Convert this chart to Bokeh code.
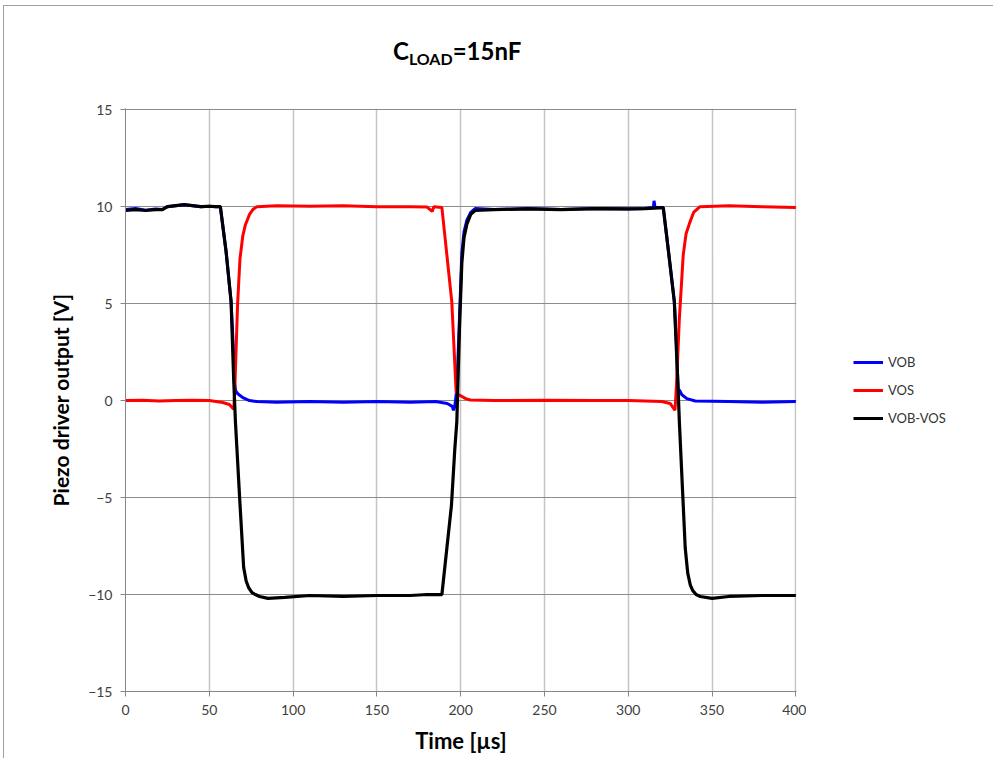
from bokeh.plotting import figure
from bokeh.models import Legend, LegendItem, FixedTicker, Div, Range1d
from bokeh.layouts import column, row
from bokeh.embed import file_html
from bokeh.resources import INLINE

# Scope traces: time in microseconds, voltage in volts
vob_t = [0, 6, 12, 18, 22, 25, 30, 35, 40, 45, 50, 54, 56.6, 60, 63, 64.3, 65, 65.8, 67, 70, 74,
         78.5, 90, 110, 130, 150, 170, 185, 192, 195, 195.7, 196.5, 197.7, 199.3, 200.7, 202,
         203.7, 206, 208.6, 220, 240, 260, 280, 300, 310, 315, 315.4, 316, 320.9, 324, 327.5,
         328.8, 329.8, 330.5, 332, 335, 340, 360, 380, 400]
vob_v = [9.85, 9.9, 9.82, 9.88, 9.85, 10.0, 10.05, 10.1, 10.05, 10.0, 10.02, 10.0, 10.0, 7.7, 5.1,
         2.8, 0.9, 0.5, 0.35, 0.15, 0.0, -0.05, -0.08, -0.05, -0.08, -0.05, -0.08, -0.05, -0.15,
         -0.3, -0.5, -0.3, 0.6, 4.3, 7.6, 8.7, 9.3, 9.7, 9.9, 9.85, 9.9, 9.85, 9.9, 9.88, 9.9,
         9.95, 10.3, 9.95, 9.95, 7.7, 5.1, 2.8, 0.5, 0.55, 0.3, 0.1, -0.02, -0.05, -0.08, -0.05]

vos_t = [0, 10, 20, 30, 40, 50, 58, 62, 64.6, 65.3, 66.9, 68.3, 70, 71.5, 74, 76, 78.5, 90, 110,
         130, 150, 170, 180, 183, 184, 188.8, 194.7, 197.3, 198.5, 200, 203, 205.7, 220, 250, 280,
         300, 320, 325, 327.9, 328.8, 330.5, 332.8, 334.5, 336.8, 339, 342.8, 360, 380, 400]
vos_v = [0.0, 0.02, -0.02, 0.0, 0.02, 0.0, -0.1, -0.2, -0.45, 0.8, 5.0, 7.3, 8.5, 9.05, 9.6, 9.85,
         10.0, 10.05, 10.02, 10.05, 10.0, 10.0, 9.98, 9.75, 10.0, 9.95, 5.1, 0.46, 0.3, 0.25, 0.1,
         0.03, 0.0, 0.02, 0.0, 0.0, -0.05, -0.15, -0.5, 0.8, 4.23, 7.5, 8.6, 9.2, 9.7, 10.0,
         10.05, 10.0, 9.95]

diff_t = [0, 6, 12, 18, 22, 25, 30, 35, 40, 45, 50, 54, 56.6, 60, 63, 64.6, 65.6, 68.1, 70.5, 72,
          73.5, 75.5, 77.5, 80, 85, 95, 110, 130, 150, 170, 180, 188.8, 194.5, 196.5, 197.7,
          199.3, 200.7, 202, 203.7, 206, 208.6, 220, 240, 260, 280, 300, 310, 320.9, 324, 327.5,
          329.8, 330.5, 332.6, 334, 335.5, 337, 338.5, 340.5, 343, 350, 360, 380, 400]
diff_v = [9.8, 9.85, 9.8, 9.85, 9.85, 10.0, 10.05, 10.1, 10.05, 10.0, 10.02, 10.0, 10.0, 7.7, 5.1,
          1.0, -1.1, -5.0, -8.6, -9.3, -9.65, -9.9, -10.0, -10.1, -10.2, -10.15, -10.05, -10.1,
          -10.05, -10.05, -10.0, -10.0, -5.4, -2.5, -1.1, 3.7, 7.1, 8.4, 9.1, 9.6, 9.8, 9.85,
          9.88, 9.85, 9.9, 9.88, 9.9, 9.95, 7.7, 5.1, 0.5, -1.1, -5.0, -7.6, -8.9, -9.5, -9.8,
          -10.0, -10.1, -10.2, -10.1, -10.05, -10.05]

series_names = ["VOB", "VOS", "VOB-VOS"]
series_colors = ["#0000ff", "#ff0000", "black"]

x_ticks = [0, 50, 100, 150, 200, 250, 300, 350, 400]
y_ticks = [-15, -10, -5, 0, 5, 10, 15]

FONT = "Lato"
AXIS_GRAY = "#868686"
TITLE_H = 80
PLOT_W = 802
PLOT_H = 752 - TITLE_H

p = figure(width=PLOT_W, height=PLOT_H,
           x_range=Range1d(0, 400.4), y_range=Range1d(-15, 15.06),
           output_backend="svg", toolbar_location=None, margin=0,
           min_border_left=121, min_border_right=PLOT_W - 121 - 671,
           min_border_top=102 - TITLE_H, min_border_bottom=67)
p.outline_line_color = None
p.background_fill_color = "white"
p.border_fill_color = "white"

p.xaxis.ticker = FixedTicker(ticks=x_ticks)
p.yaxis.ticker = FixedTicker(ticks=y_ticks)
for ax in (p.xaxis, p.yaxis):
    ax.axis_line_color = AXIS_GRAY
    ax.major_tick_line_color = AXIS_GRAY
    ax.major_tick_out = 5
    ax.major_tick_in = 0
    ax.minor_tick_line_color = None
    ax.major_label_text_font = FONT
    ax.major_label_text_font_size = "14px"
    ax.major_label_text_color = "#404040"
    ax.axis_label_text_font = FONT
    ax.axis_label_text_font_style = "bold"
    ax.axis_label_text_color = "black"
p.xaxis.axis_label_text_font_size = "22px"
p.yaxis.axis_label_text_font_size = "21px"
p.xaxis.major_label_standoff = 8
p.yaxis.major_label_standoff = 8
p.xaxis.axis_label = "Time [\u00b5s]"
p.yaxis.axis_label = "Piezo driver output [V]"
p.xaxis.axis_label_standoff = 9
p.yaxis.axis_label_standoff = 12

p.xgrid.grid_line_color = "#c4c4c4"
p.xgrid.grid_line_width = 1.5
p.ygrid.grid_line_color = "#8c8c8c"
p.ygrid.grid_line_width = 1

p.line(vob_t, vob_v, line_color=series_colors[0], line_width=3)
p.line(vos_t, vos_v, line_color=series_colors[1], line_width=3)
p.line(diff_t, diff_v, line_color=series_colors[2], line_width=3.2)

# Legend panel to the right of the plot area (its frame lines up with the plot's frame)
LEG_W = 989 - PLOT_W
lg = figure(width=LEG_W, height=PLOT_H, x_range=(0, 1), y_range=(0, 1),
            output_backend="svg", toolbar_location=None, margin=0,
            min_border=0, min_border_left=0, min_border_right=0,
            min_border_top=0, min_border_bottom=0)
lg.axis.visible = False
lg.grid.visible = False
lg.outline_line_color = None
items = []
for name, color in zip(series_names, series_colors):
    # a single off-range point: only the legend swatch is shown
    r = lg.line([5], [5], line_color=color, line_width=3)
    items.append(LegendItem(label=name, renderers=[r]))
legend = Legend(items=items, location=(853 - (4 + PLOT_W), 691 - 428),
                orientation="vertical",
                glyph_width=30, glyph_height=20, label_height=20, spacing=8,
                label_standoff=5, padding=0, margin=0,
                border_line_color=None, background_fill_alpha=0,
                label_text_font=FONT, label_text_font_size="13px",
                label_text_color="#333333")
lg.add_layout(legend, "center")

title_html = (
    '<div style="position:relative;width:989px;height:%dpx;">'
    '<div style="position:absolute;left:389px;top:33px;line-height:24px;white-space:nowrap;'
    'font-family:Lato;font-weight:bold;font-size:24px;color:black;">'
    'C<span style="font-size:16px;position:relative;top:5px;">LOAD</span>=15nF</div></div>'
) % TITLE_H
title = Div(text=title_html, width=989, height=TITLE_H, margin=0)

layout = column(title, row(p, lg, spacing=0, margin=0), margin=(5, 0, 0, 3), spacing=0,
                styles={"border-top": "1px solid #a0a0a0", "border-left": "1px solid #a0a0a0"})

open("out.html", "w").write(file_html(layout, INLINE))
